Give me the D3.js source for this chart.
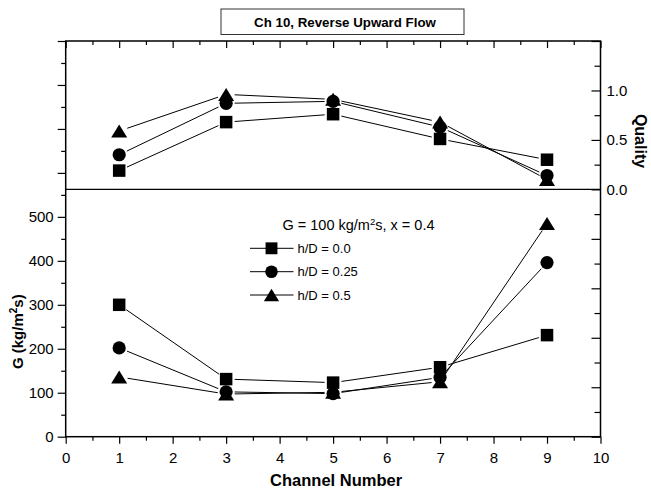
<!DOCTYPE html>
<html><head><meta charset="utf-8">
<script src="https://cdn.jsdelivr.net/npm/d3@7"></script>
<style>
body{margin:0;background:#fff;}
text{font-family:"Liberation Sans",Arial,Helvetica,sans-serif;fill:#000;}
</style></head>
<body><svg id="c" width="651" height="489"></svg>
<script>
// ---- data ----
const channels = [1, 3, 5, 7, 9];
const seriesNames = ["h/D = 0.0", "h/D = 0.25", "h/D = 0.5"];
const seriesShapes = ["square", "circle", "triangle"];
// Mass flux G (kg/m2s), lower panel
const gSquare   = [300, 131, 123, 158, 231];
const gCircle   = [202, 102,  98, 135, 396];
const gTriangle = [136,  97, 101, 125, 485];
// Quality, upper panel
const qSquare   = [0.19, 0.68, 0.76, 0.51, 0.30];
const qCircle   = [0.35, 0.87, 0.89, 0.63, 0.14];
const qTriangle = [0.59, 0.96, 0.91, 0.68, 0.10];
const xTickValues = [0,1,2,3,4,5,6,7,8,9,10];
const gTickLabels = [0, 100, 200, 300, 400, 500];
const qTickLabels = [0.0, 0.5, 1.0];
const titleText = "Ch 10, Reverse Upward Flow";
const legendTitle = ["G = 100 kg/m", "2", "s, x = 0.4"];
const xTitle = "Channel Number";

// ---- layout ----
const L = 65.7, R = 600.5, T = 41, B = 436.7;
const svg = d3.select("#c");
const x = d3.scaleLinear().domain([0, 10]).range([L, R]);
const g = d3.scaleLinear().domain([0, 900]).range([B, T]);
const q = d3.scaleLinear().domain([-2.5, 1.5]).range([B, T]);
const font = '"Liberation Sans",Arial,Helvetica,sans-serif';

function styleAxis(sel){
  sel.select(".domain").remove();
  sel.selectAll(".tick line").attr("stroke","#000").attr("stroke-width",1.2);
  sel.selectAll(".tick text").attr("font-family",font).attr("font-size",15).attr("fill","#000");
}
// bottom axis
svg.append("g").attr("transform",`translate(0,${B})`)
  .call(d3.axisBottom(x).tickValues(xTickValues).tickSize(7).tickPadding(9).tickFormat(d3.format("d"))).call(styleAxis);
svg.append("g").attr("transform",`translate(0,${B})`)
  .call(d3.axisBottom(x).tickValues(d3.range(0.5,10,1)).tickSize(4).tickFormat("")).call(styleAxis);
// top axis (ticks inward)
svg.append("g").attr("transform",`translate(0,${T})`)
  .call(d3.axisTop(x).tickValues(xTickValues).tickSize(-7).tickFormat("")).call(styleAxis);
svg.append("g").attr("transform",`translate(0,${T})`)
  .call(d3.axisTop(x).tickValues(d3.range(0.5,10,1)).tickSize(-4).tickFormat("")).call(styleAxis);
// left axis (G)
svg.append("g").attr("transform",`translate(${L},0)`)
  .call(d3.axisLeft(g).tickValues(d3.range(0,901,100)).tickSize(8).tickPadding(4)
    .tickFormat(d => gTickLabels.includes(d) ? d3.format("d")(d) : "")).call(styleAxis);
svg.append("g").attr("transform",`translate(${L},0)`)
  .call(d3.axisLeft(g).tickValues(d3.range(50,900,100)).tickSize(4.5).tickFormat("")).call(styleAxis);
// right axis (Quality, ticks inward)
svg.append("g").attr("transform",`translate(${R},0)`)
  .call(d3.axisRight(q).tickValues(d3.range(-2.5,1.51,0.5)).tickSize(-9).tickPadding(6)
    .tickFormat(d => qTickLabels.some(v => Math.abs(v-d)<1e-9) ? d3.format(".1f")(d) : "")).call(styleAxis);
svg.append("g").attr("transform",`translate(${R},0)`)
  .call(d3.axisRight(q).tickValues(d3.range(-2.25,1.5,0.5)).tickSize(-6).tickFormat("")).call(styleAxis);

// frame and divider
svg.append("rect").attr("x",L).attr("y",T).attr("width",R-L).attr("height",B-T)
  .attr("fill","none").attr("stroke","#000").attr("stroke-width",1.5);
svg.append("line").attr("x1",L).attr("x2",R).attr("y1",q(0)).attr("y2",q(0))
  .attr("stroke","#000").attr("stroke-width",1.3);

// axis titles
svg.append("text").attr("x",(L+R)/2+3).attr("y",486).attr("text-anchor","middle")
  .attr("font-weight","bold").attr("font-size",16.5).text(xTitle);
const yl = svg.append("text").attr("transform","translate(23,331.7) rotate(-90)")
  .attr("text-anchor","middle").attr("font-weight","bold").attr("font-size",15);
yl.append("tspan").text("G (kg/m");
yl.append("tspan").attr("font-size",10).attr("dy",-6).text("2");
yl.append("tspan").attr("dy",6).text("s)");
svg.append("text").attr("transform","translate(635,141) rotate(90)")
  .attr("text-anchor","middle").attr("font-weight","bold").attr("font-size",16).text("Quality");

// title box
svg.append("rect").attr("x",221).attr("y",9).attr("width",243).attr("height",25.5)
  .attr("fill","#fff").attr("stroke","#333").attr("stroke-width",1);
svg.append("text").attr("x",345).attr("y",26.5).attr("text-anchor","middle")
  .attr("font-weight","bold").attr("font-size",13.3).text(titleText);

// markers
function marker(sel, shape, cx, cy, scale){
  const s = scale || 1;
  if(shape==="square"){
    const a = 12.5*s;
    sel.append("rect").attr("x",cx-a/2).attr("y",cy-a/2).attr("width",a).attr("height",a).attr("fill","#000");
  } else if(shape==="circle"){
    sel.append("circle").attr("cx",cx).attr("cy",cy).attr("r",6.6*s).attr("fill","#000");
  } else {
    const w = 16*s, h = 13*s;
    sel.append("path").attr("d",`M${cx},${cy-h/2}L${cx+w/2},${cy+h/2}L${cx-w/2},${cy+h/2}Z`).attr("fill","#000");
  }
}
function drawSeries(vals, yScale, shape){
  const pts = channels.map((c,i) => [x(c), yScale(vals[i])]);
  const gap = 8.5;
  const grp = svg.append("g");
  for(let i=0;i<pts.length-1;i++){
    const [x1,y1] = pts[i], [x2,y2] = pts[i+1];
    const dx = x2-x1, dy = y2-y1, len = Math.hypot(dx,dy);
    if(len <= 2*gap) continue;
    const ux = dx/len, uy = dy/len;
    grp.append("line").attr("x1",x1+ux*gap).attr("y1",y1+uy*gap)
      .attr("x2",x2-ux*gap).attr("y2",y2-uy*gap).attr("stroke","#000").attr("stroke-width",1);
  }
  pts.forEach(p => marker(grp, shape, p[0], p[1]));
}
const gSeries = [gSquare, gCircle, gTriangle];
const qSeries = [qSquare, qCircle, qTriangle];
gSeries.forEach((v,i) => drawSeries(v, g, seriesShapes[i]));
qSeries.forEach((v,i) => drawSeries(v, q, seriesShapes[i]));

// legend
const lt = svg.append("text").attr("x",282.5).attr("y",230).attr("font-size",14.5);
lt.append("tspan").text(legendTitle[0]);
lt.append("tspan").attr("font-size",9.5).attr("dy",-5.5).text(legendTitle[1]);
lt.append("tspan").attr("dy",5.5).text(legendTitle[2]);
const rowsY = [248.3, 271.7, 295];
seriesNames.forEach((name,i) => {
  const y = rowsY[i];
  svg.append("line").attr("x1",250).attr("x2",293.5).attr("y1",y).attr("y2",y)
    .attr("stroke","#000").attr("stroke-width",1);
  marker(svg, seriesShapes[i], 271.5, y, 0.95);
  svg.append("text").attr("x",297.5).attr("y",y+4.7).attr("font-size",13).text(name);
});
</script></body></html>
